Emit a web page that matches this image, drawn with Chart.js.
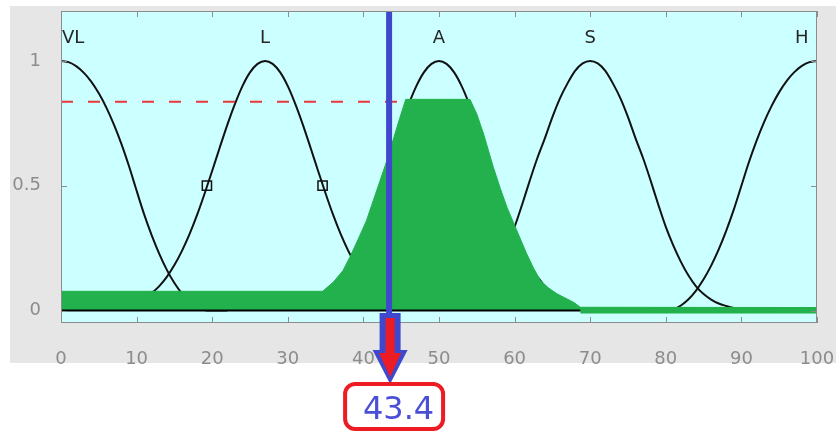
<!DOCTYPE html>
<html>
<head>
<meta charset="utf-8">
<script src="https://cdn.jsdelivr.net/npm/chart.js@4.4.1/dist/chart.umd.min.js"></script>
<style>
  html, body { margin: 0; padding: 0; background: #ffffff; }
  #wrap { width: 836px; height: 432px; }
</style>
</head>
<body>
<div id="wrap"><canvas id="c" width="836" height="432"></canvas></div>
<script>
// Output variable: membership functions, aggregated output and defuzzified value
const mfNames = ['VL', 'L', 'A', 'S', 'H'];
const mfLabelX = [1.6, 27, 50, 70, 98];
const mfLabelY = 1.09;

const vlX = [0, 1, 2, 3, 4, 5, 6, 7, 8, 9, 9.8, 11, 12, 13, 14, 15, 16, 17, 18, 19, 19.6, 22];
const vlY = [1, 0.995, 0.979, 0.953, 0.917, 0.870, 0.813, 0.745, 0.667, 0.578, 0.5, 0.385, 0.301, 0.227, 0.163, 0.110, 0.068, 0.035, 0.013, 0.002, 0, 0];

const lX = [8, 9, 10, 11, 12, 13, 14, 15, 16, 17, 18, 19, 20, 21, 22, 23, 24, 25, 26, 27, 28, 29, 30, 31, 32, 33, 34, 35, 36, 37, 38, 39, 40, 41, 42, 43, 44, 45, 46];
const lY = [0.014, 0.022, 0.033, 0.048, 0.070, 0.098, 0.135, 0.182, 0.239, 0.306, 0.383, 0.469, 0.560, 0.653, 0.744, 0.827, 0.899, 0.954, 0.988, 1, 0.988, 0.954, 0.899, 0.827, 0.744, 0.653, 0.560, 0.469, 0.383, 0.306, 0.239, 0.182, 0.135, 0.098, 0.070, 0.048, 0.033, 0.022, 0.014];

const aX = [32, 34, 36, 38, 40, 42, 43, 44, 45, 46, 47, 48, 49, 50, 51, 52, 53, 54, 55, 56, 57, 58, 60, 62, 64, 66, 68];
const aY = [0.022, 0.048, 0.098, 0.182, 0.306, 0.469, 0.560, 0.653, 0.744, 0.827, 0.899, 0.954, 0.988, 1, 0.988, 0.954, 0.899, 0.827, 0.744, 0.653, 0.560, 0.469, 0.306, 0.182, 0.098, 0.048, 0.022];

const sX = [50, 51, 52, 53, 54, 55, 56, 57, 58, 59, 60, 61, 62, 63, 64, 65, 66, 67, 68, 69, 70, 71, 72, 73, 74, 75, 76, 77, 78, 79, 80, 81, 82, 83, 84, 85, 86, 87, 88, 89, 90];
const sY = [0.005, 0.01, 0.018, 0.028, 0.044, 0.066, 0.097, 0.14, 0.195, 0.26, 0.335, 0.425, 0.52, 0.61, 0.69, 0.775, 0.85, 0.91, 0.96, 0.99, 1, 0.99, 0.96, 0.91, 0.85, 0.775, 0.69, 0.61, 0.52, 0.425, 0.335, 0.26, 0.195, 0.14, 0.097, 0.066, 0.044, 0.028, 0.018, 0.01, 0.005];

const hX = [78, 80, 81, 82, 83, 84, 85, 86, 87, 88, 89, 90, 91, 92, 93, 94, 95, 96, 97, 98, 99, 100];
const hY = [0, 0, 0.005, 0.02, 0.045, 0.08, 0.125, 0.18, 0.245, 0.32, 0.405, 0.5, 0.595, 0.68, 0.755, 0.82, 0.875, 0.92, 0.955, 0.98, 0.995, 1];

// aggregated (clipped) output set
const aggX = [0, 34.6, 36.0, 37.3, 38.2, 39.3, 40.4, 41.3, 42.2, 43.1, 44.0, 44.8, 45.6, 54.1, 55.0, 55.9, 57.2, 58.1, 59.0, 60.3, 61.6, 62.5, 63.4, 64.5, 65.6, 67.8, 68.7, 100];
const aggY = [0.077, 0.077, 0.113, 0.16, 0.213, 0.285, 0.36, 0.44, 0.52, 0.6, 0.69, 0.77, 0.846, 0.846, 0.787, 0.707, 0.573, 0.49, 0.413, 0.32, 0.227, 0.17, 0.12, 0.09, 0.067, 0.033, 0.013, 0.012];

// firing strength level and half-membership markers
const clipLevelX = [0, 45.6];
const clipLevelY = [0.836, 0.836];
const markerX = [19.3, 34.6];
const markerY = [0.5, 0.5];

// zero line segments
const baseBlackX = [0, 68.7];
const baseGreenX = [68.7, 100];

// defuzzified (centroid) result
const crispOutput = [43.4];

const xTickValues = [0, 10, 20, 30, 40, 50, 60, 70, 80, 90, 100];
const yTickValues = [0, 0.5, 1];

const pts = (xs, ys) => xs.map((x, i) => ({ x: x, y: ys[i] }));
const flat = (xs, v) => xs.map(x => ({ x: x, y: v }));

const GREEN = '#22b14c';
const BLUE = '#3f48cc';
const RED = '#ed1c24';

const curve = (xs, ys) => ({
  data: pts(xs, ys),
  borderColor: '#111111',
  borderWidth: 2,
  pointRadius: 0,
  cubicInterpolationMode: 'monotone',
  fill: false,
  order: 3
});

const noPad = s => { s.paddingLeft = 0; s.paddingRight = 0; s.paddingTop = 0; s.paddingBottom = 0; };

const decorations = {
  id: 'decorations',
  beforeDraw(chart) {
    const { ctx, chartArea: a } = chart;
    ctx.save();
    ctx.fillStyle = '#ffffff';
    ctx.fillRect(0, 0, chart.width, chart.height);
    ctx.fillStyle = '#e6e6e6';
    ctx.fillRect(10, 6, chart.width - 10, 357);
    ctx.fillStyle = '#ccffff';
    ctx.fillRect(a.left, a.top, a.right - a.left, a.bottom - a.top);
    ctx.restore();
  },
  afterDatasetsDraw(chart) {
    const { ctx, chartArea: a, scales } = chart;
    const xs = scales.x, ys = scales.y;
    ctx.save();
    // axes box
    ctx.strokeStyle = '#8c8c8c';
    ctx.lineWidth = 1;
    ctx.strokeRect(a.left + 0.5, a.top + 0.5, a.right - a.left - 1, a.bottom - a.top - 1);
    // inward tick marks
    ctx.beginPath();
    xTickValues.forEach(v => {
      const px = Math.round(xs.getPixelForValue(v)) + 0.5;
      ctx.moveTo(px, a.bottom); ctx.lineTo(px, a.bottom - 6);
      ctx.moveTo(px, a.top); ctx.lineTo(px, a.top + 6);
    });
    yTickValues.forEach(v => {
      const py = Math.round(ys.getPixelForValue(v)) + 0.5;
      ctx.moveTo(a.left, py); ctx.lineTo(a.left + 6, py);
      ctx.moveTo(a.right, py); ctx.lineTo(a.right - 6, py);
    });
    ctx.stroke();
    // membership function names
    ctx.fillStyle = '#262626';
    ctx.font = '18px "DejaVu Sans"';
    ctx.textAlign = 'center';
    ctx.textBaseline = 'middle';
    mfNames.forEach((n, i) => {
      ctx.fillText(n, xs.getPixelForValue(mfLabelX[i]), ys.getPixelForValue(mfLabelY));
    });
    ctx.restore();
  },
  afterDraw(chart) {
    const { ctx, scales } = chart;
    const cx = scales.x.getPixelForValue(crispOutput[0]) + 1;
    ctx.save();
    // arrow: blue outline, red body
    ctx.fillStyle = BLUE;
    ctx.beginPath();
    ctx.moveTo(cx - 10.5, 313);
    ctx.lineTo(cx + 10.5, 313);
    ctx.lineTo(cx + 10.5, 350);
    ctx.lineTo(cx + 17.5, 350);
    ctx.lineTo(cx, 384);
    ctx.lineTo(cx - 17.5, 350);
    ctx.lineTo(cx - 10.5, 350);
    ctx.closePath();
    ctx.fill();
    ctx.fillStyle = RED;
    ctx.beginPath();
    ctx.moveTo(cx - 4.5, 318);
    ctx.lineTo(cx + 4.5, 318);
    ctx.lineTo(cx + 4.5, 353);
    ctx.lineTo(cx + 11, 353);
    ctx.lineTo(cx, 377);
    ctx.lineTo(cx - 11, 353);
    ctx.lineTo(cx - 4.5, 353);
    ctx.closePath();
    ctx.fill();
    // value box
    const bx = cx - 45, by = 384, bw = 98, bh = 45, r = 10;
    ctx.beginPath();
    ctx.moveTo(bx + r, by);
    ctx.arcTo(bx + bw, by, bx + bw, by + bh, r);
    ctx.arcTo(bx + bw, by + bh, bx, by + bh, r);
    ctx.arcTo(bx, by + bh, bx, by, r);
    ctx.arcTo(bx, by, bx + bw, by, r);
    ctx.closePath();
    ctx.fillStyle = '#ffffff';
    ctx.fill();
    ctx.strokeStyle = RED;
    ctx.lineWidth = 4;
    ctx.stroke();
    ctx.fillStyle = '#4b4fd6';
    ctx.font = '32px "DejaVu Sans"';
    ctx.textAlign = 'center';
    ctx.textBaseline = 'alphabetic';
    ctx.fillText(crispOutput[0].toFixed(1), cx + 8.5, 419);
    ctx.restore();
  }
};

new Chart(document.getElementById('c'), {
  type: 'line',
  data: {
    datasets: [
      { data: [{ x: crispOutput[0], y: -0.05 }, { x: crispOutput[0], y: 1.2 }], borderColor: BLUE, borderWidth: 6, pointRadius: 0, fill: false, order: 0 },
      { data: flat(baseBlackX, 0), borderColor: '#000000', borderWidth: 2, pointRadius: 0, fill: false, order: 0 },
      { data: flat(baseGreenX, 0), borderColor: GREEN, borderWidth: 6, pointRadius: 0, fill: false, order: 0 },
      { data: pts(aggX, aggY), borderColor: GREEN, borderWidth: 1, backgroundColor: GREEN, pointRadius: 0, tension: 0, fill: 'origin', order: 1 },
      { data: pts(clipLevelX, clipLevelY), borderColor: '#e8383c', borderWidth: 2, borderDash: [12, 15], pointRadius: 0, fill: false, order: 2 },
      { data: pts(markerX, markerY), showLine: false, pointStyle: 'rect', pointRadius: 6.5, pointBorderWidth: 1.5, pointBorderColor: '#111111', pointBackgroundColor: 'rgba(0,0,0,0)', order: 3 },
      curve(vlX, vlY),
      curve(lX, lY),
      curve(aX, aY),
      curve(sX, sY),
      curve(hX, hY)
    ]
  },
  options: {
    responsive: false,
    devicePixelRatio: 1,
    animation: false,
    events: [],
    layout: { padding: { left: 0, right: 19, top: 11, bottom: 0 } },
    plugins: { legend: { display: false }, tooltip: { enabled: false } },
    scales: {
      x: {
        type: 'linear', min: 0, max: 100,
        grid: { display: false }, border: { display: false },
        afterBuildTicks: s => { s.ticks = xTickValues.map(v => ({ value: v })); },
        afterFit: s => { s.height = 109; noPad(s); },
        ticks: { color: '#8c8c8c', font: { family: 'DejaVu Sans', size: 18 }, padding: 18, maxRotation: 0, autoSkip: false, callback: v => String(v) }
      },
      y: {
        type: 'linear', min: -0.05, max: 1.2,
        grid: { display: false }, border: { display: false },
        afterBuildTicks: s => { s.ticks = yTickValues.map(v => ({ value: v })); },
        afterFit: s => { s.width = 61; noPad(s); },
        ticks: { color: '#8c8c8c', font: { family: 'DejaVu Sans', size: 18 }, padding: 12, autoSkip: false, callback: v => String(v) }
      }
    }
  },
  plugins: [decorations]
});
</script>
</body>
</html>
